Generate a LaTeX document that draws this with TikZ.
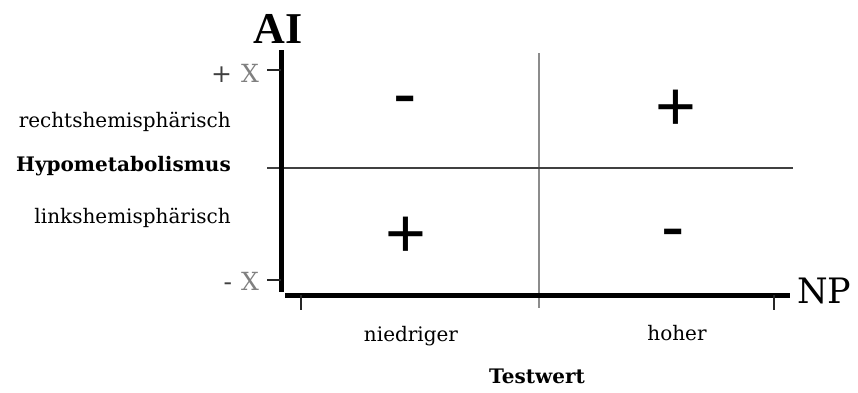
\documentclass[tikz,border=0pt]{standalone}
\usepackage{fontspec}
\setmainfont{DejaVu Serif}
\newfontfamily\sgnfont{Liberation Sans}
\newfontfamily\bigser{Liberation Serif}
\begin{document}
\begin{tikzpicture}[x=1pt,y=-1pt,
  lab/.style={font=\fontsize{20}{23}\selectfont, inner sep=0pt},
  boldlab/.style={font=\fontsize{20}{23}\selectfont\bfseries, inner sep=0pt},
  xlab/.style={font=\fontsize{25}{26}\selectfont, inner sep=0pt},
  axisline/.style={line width=5pt, black},
  quadline/.style={line width=1.6pt, black!75},
  vquadline/.style={line width=2pt, black!45},
  ticky/.style={line width=1.5pt, black!85},
  sgn/.style={font=\sgnfont\fontsize{70}{70}\selectfont, inner sep=0pt},
  big/.style={font=\bigser\bfseries\fontsize{44}{44}\selectfont, inner sep=0pt},
  bigreg/.style={font=\fontsize{35}{35}\selectfont, inner sep=0pt}]
\useasboundingbox (0,0) rectangle (858,392);
% coordinates
\coordinate (ytop) at (281,50);
\coordinate (ybot) at (281,292);
\coordinate (xl) at (285,295);
\coordinate (xr) at (790,295);
\coordinate (hl) at (267,168);
\coordinate (hr) at (793,168);
\coordinate (vt) at (539,53);
\coordinate (vb) at (539,308);
\coordinate (tpx1) at (267,70);
\coordinate (tpx2) at (281,70);
\coordinate (tmx1) at (267,280);
\coordinate (tmx2) at (281,280);
\coordinate (tb1a) at (301,295);
\coordinate (tb1b) at (301,310);
\coordinate (tb2a) at (774,295);
\coordinate (tb2b) at (774,310);
% quadrant lines
\draw[vquadline] (vt) -- (vb);
\draw[quadline] (hl) -- (hr);
% axes
\draw[axisline] (ytop) -- (ybot);
\draw[axisline] (xl) -- (xr);
% ticks
\draw[ticky] (tpx1) -- (tpx2);
\draw[ticky] (tmx1) -- (tmx2);
\draw[ticky] (tb1a) -- (tb1b);
\draw[ticky] (tb2a) -- (tb2b);
% axis titles
\node[big, anchor=base] (ai) at (278,43) {AI};
\node[bigreg, anchor=base west] (np) at (797,303) {NP};
% y labels
\node[xlab, anchor=base east] (px) at (259,82) {{\color{black!75}+}\hspace{9pt}{\color{black!50}X}};
\node[xlab, anchor=base east] (mx) at (259,290) {{\color{black!75}-}\hspace{9pt}{\color{black!50}X}};
\node[lab, anchor=base east] (re) at (231,127) {rechtshemisphärisch};
\node[boldlab, anchor=base east] (hy) at (231,171) {Hypometabolismus};
\node[lab, anchor=base east] (li) at (231,223) {linkshemisphärisch};
% x labels
\node[lab, anchor=base] (ni) at (411,341) {niedriger};
\node[lab, anchor=base] (ho) at (677,340) {hoher};
\node[boldlab, anchor=base] (te) at (537,383) {Testwert};
% signs
\node[sgn, anchor=base] (s1) at (405,117) {-};
\node[sgn, anchor=base] (s2) at (676,130) {+};
\node[sgn, anchor=base] (s3) at (406,257) {+};
\node[sgn, anchor=base] (s4) at (673,250) {-};
\end{tikzpicture}
\end{document}
